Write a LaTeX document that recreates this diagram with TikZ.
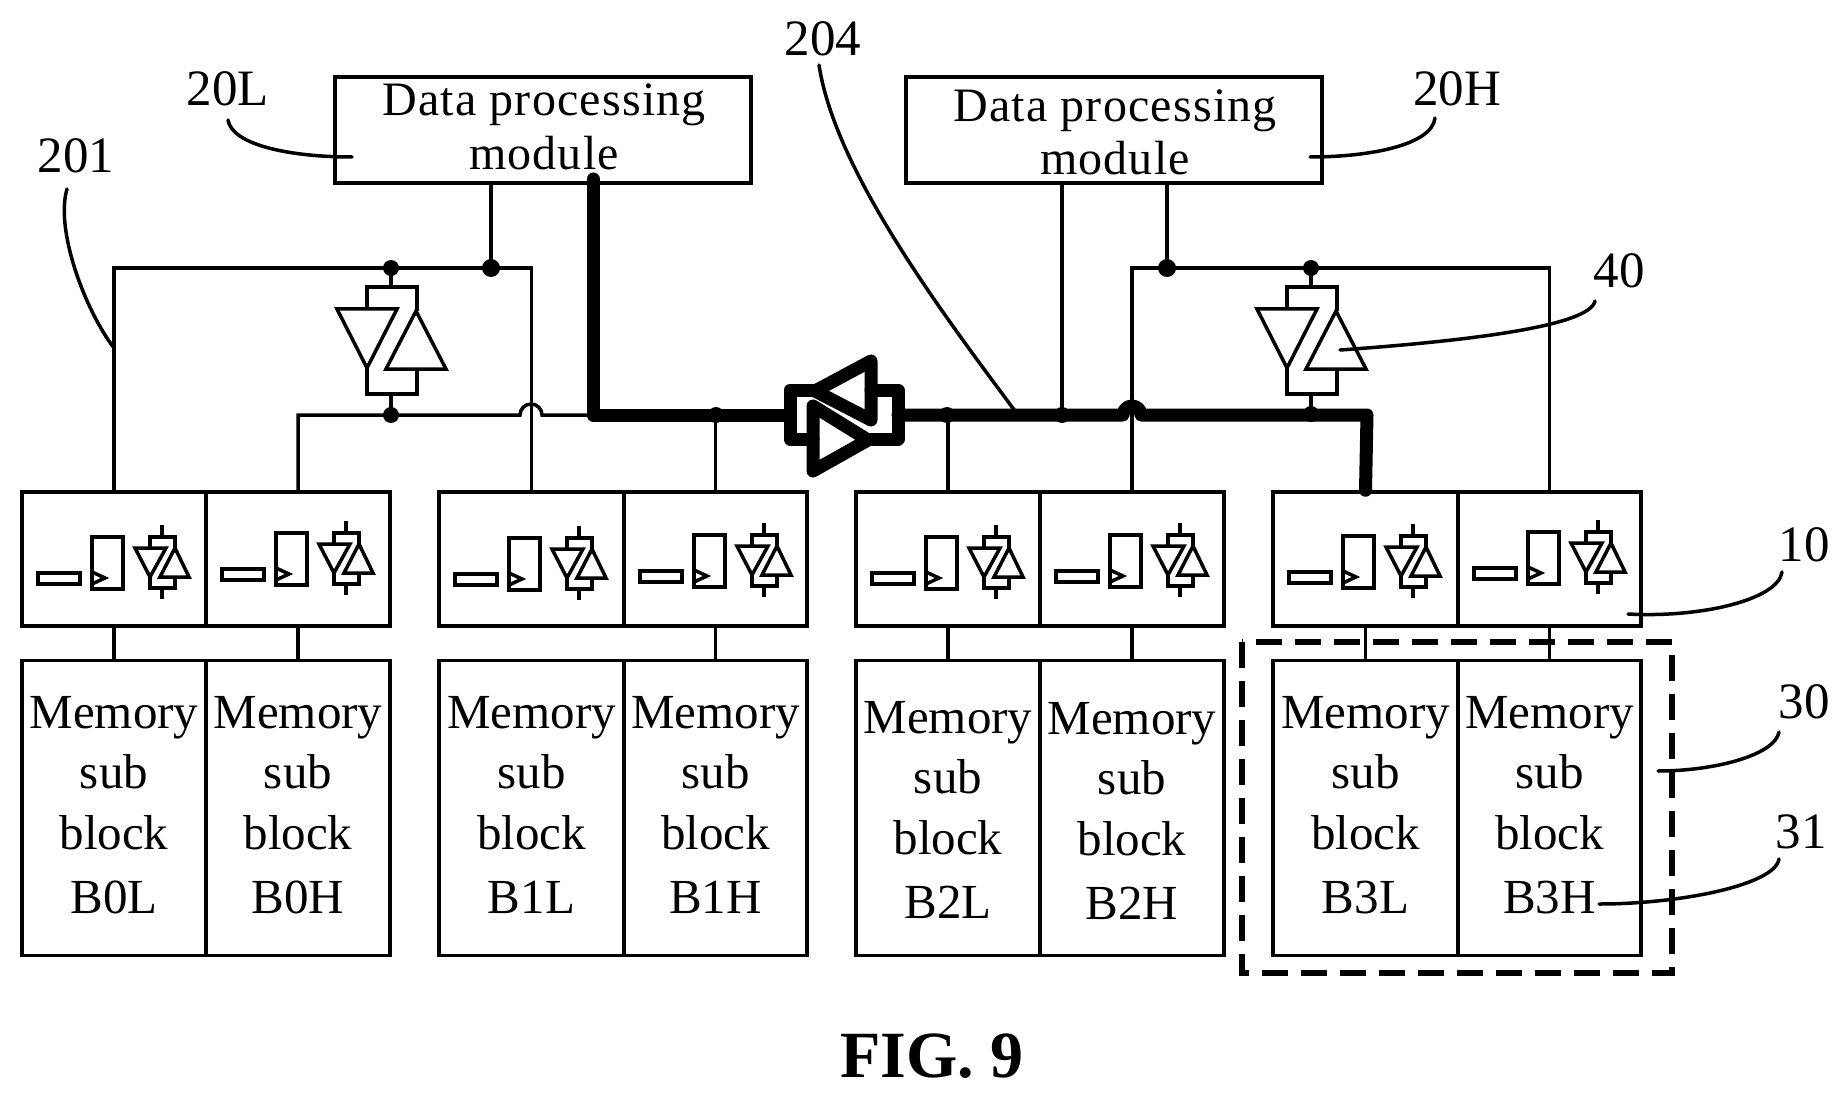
\documentclass[tikz,border=0pt]{standalone}
\usepackage{fontspec}
\setmainfont{Liberation Serif}
\newfontfamily\datafont[LetterSpace=2.5]{Liberation Serif}
\tikzset{
  thin line/.style={line width=3.5pt,line join=miter},
  thick bus/.style={line width=13pt,line join=round,line cap=round},
  cellbox/.style={draw,line width=3.5pt,inner sep=0pt,minimum height=134pt},
  membox/.style={draw,line width=3.5pt,inner sep=0pt,minimum height=295pt},
  modbox/.style={draw,line width=3.5pt,inner sep=0pt,minimum width=416pt,minimum height=106pt},
  memtext/.style={inner sep=0pt,anchor=base,align=center,font=\fontsize{49}{60}\selectfont},
  datatext/.style={inner sep=0pt,anchor=base,font=\datafont\fontsize{48}{58}\selectfont},
  reflabel/.style={inner sep=0pt,font=\fontsize{51}{60}\selectfont},
  leader/.style={line width=3.5pt,line cap=round},
  dot/.style={circle,fill=black,inner sep=0pt,minimum size=18pt},
}
% buffer pair drawn in a block cell
\newcommand{\cellicon}[2]{%
  \begin{scope}[shift={(#1,#2)},thin line]
    \draw (16,573) rectangle (58,584);
    \draw (70,537) rectangle (101,589);
    \draw (70,572) -- (83,578) -- (70,584);
    \draw (140,525) -- (140,537);
    \draw (128,548) -- (128,537) -- (153,537) -- (153,548);
    \draw (113,548) -- (144,548) -- (128,577) -- cycle;
    \draw (153,548) -- (167,577) -- (138,577) -- cycle;
    \draw (128,577) -- (128,588) -- (153,588) -- (153,577);
    \draw (140,588) -- (140,599);
  \end{scope}}
% a pair of cells above a pair of memory blocks
\newcommand{\blockpair}[8]{% name, x0, x1, x2, text shift L, text shift H, icon dy L, icon dy H
  \pgfmathsetmacro{\cA}{(#2+#3)/2}\pgfmathsetmacro{\wA}{#3-#2}
  \pgfmathsetmacro{\cB}{(#3+#4)/2}\pgfmathsetmacro{\wB}{#4-#3}
  \node[cellbox,minimum width=\wA pt] (i#1L) at (\cA,559) {};
  \node[cellbox,minimum width=\wB pt] (i#1H) at (\cB,559) {};
  \node[membox,minimum width=\wA pt] (m#1L) at (\cA,808) {};
  \node[membox,minimum width=\wB pt] (m#1H) at (\cB,808) {};
  \node[memtext] (t#1L) at (\cA,{913+#5}) {Memory\\sub\\[1pt]block\\[4pt]B#1L};
  \node[memtext] (t#1H) at (\cB,{913+#6}) {Memory\\sub\\[1pt]block\\[4pt]B#1H};
  \draw[thin line] (i#1H.south) -- (m#1H.north);
  \cellicon{#2}{#7}
  \cellicon{#3}{#8}
}
\newcommand{\bufferpair}[1]{%
  \begin{scope}[shift={(#1,0)},thin line]
    \draw (367,309) -- (367,287) -- (417,287) -- (417,311);
    \draw (337,309) -- (397,309) -- (367,368) -- cycle;
    \draw (416,311) -- (446,369) -- (386,369) -- cycle;
    \draw (367,368) -- (367,394) -- (417,394) -- (417,369);
    \draw (391,268) -- (391,287);
    \draw (391,394) -- (391,415);
  \end{scope}}
\begin{document}
\begin{tikzpicture}[x=1pt,y=-1pt]
\useasboundingbox (0,0) rectangle (1847,1099);

% blocks
\blockpair{0}{22}{206}{390}{0}{0}{0}{-4}
\blockpair{1}{439}{624}{807}{0}{0}{1}{-2}
\blockpair{2}{856}{1040}{1224}{5}{6}{0}{-2}
\blockpair{3}{1273}{1458}{1641}{0}{0}{-1}{-5}
% stems: block B1L has none of its own
\draw[thin line] (i0L.south) -- (m0L.north);
\draw[thin line] (i2L.south) -- (m2L.north);
\draw[thin line] (i3L.south) -- (m3L.north);

% data processing modules
\node[modbox] (dl) at (543,130) {};
\node[modbox] (dh) at (1114,130) {};
\node[datatext] (dlt1) at (544,116) {Data processing};
\node[datatext] (dlt2) at (544,170) {module};
\node[datatext] (dht1) at (1115,122) {Data processing};
\node[datatext] (dht2) at (1115,175) {module};

% junctions
\coordinate (lt) at (491,268);
\coordinate (lb) at (391,415);
\coordinate (lbt) at (391,268);
\coordinate (corner) at (593,415);
\coordinate (gateL) at (790,415);
\coordinate (gateR) at (898,415);
\coordinate (hopL) at (1123,415);

% left thin buses
\draw[thin line] (i0L.north) |- (lbt) -- (lt) -| (i1L.north);
\draw[thin line] (dl.south -| lt) -- (lt);
\draw[thin line] (i0H.north) |- (lb) -- (520,415) arc[start angle=180,end angle=360,radius=11] -- (corner);
\bufferpair{0}
\node[dot] (d1) at (lt) {};
\node[dot,minimum size=16pt] (d2) at (lbt) {};
\node[dot,minimum size=16pt] (d3) at (lb) {};

% right thin buses
\coordinate (rt) at (1167,268);
\coordinate (rbt) at (1311,268);
\coordinate (rb) at (1311,414);
\draw[thin line] (i2H.north) |- (rt) -- (rbt) -| (i3H.north);
\draw[thin line] (dh.south -| rt) -- (rt);
\bufferpair{920}
\node[dot] (d4) at (rt) {};
\node[dot,minimum size=16pt] (d5) at (rbt) {};
\node[dot,minimum size=16pt] (d6) at (rb) {};

% thin stems to the main bus
\draw[thin line] (i1H.north) -- (i1H.north |- corner);
\draw[thin line] (i2L.north) -- (i2L.north |- corner);
\draw[thin line] (dh.south -| 1062,0) -- (1062,415);

% thick bus
\draw[thick bus] (corner |- 0,179) -- (corner) -- (gateL);
\draw[thick bus] (gateR) -- (hopL) arc[start angle=180,end angle=360,radius=9] -- (1367,415) -- (i3L.north);
\node[dot,minimum size=16pt] (d7) at (716,415) {};
\node[dot,minimum size=16pt] (d8) at (947,415) {};
\node[dot,minimum size=16pt] (d9) at (1062,415) {};

% thick gate
\draw[thick bus] (815,391) -- (871,361) -- (871,420) -- cycle;
\draw[thick bus] (813,406) -- (868,440) -- (813,471) -- cycle;
\draw[thick bus] (815,390) -- (790,390) -- (790,439) -- (813,439);
\draw[thick bus] (871,390) -- (898,390) -- (898,439) -- (868,439);

% dashed outline
\draw[line width=6.5pt,dash pattern=on 26pt off 13pt] (1242,642) rectangle (1672,973);

% reference labels and leaders
\node[reflabel] (l20L) at (228,89) {20L};
\node[reflabel] (l20H) at (1457,89) {20H};
\node[reflabel] (l201) at (76,156) {201};
\node[reflabel] (l204) at (823,39) {204};
\node[reflabel] (l40) at (1619,271) {40};
\node[reflabel] (l10) at (1804,545) {10};
\node[reflabel] (l30) at (1804,702) {30};
\node[reflabel] (l31) at (1801,832) {31};
\coordinate (e20L) at (352,157);
\coordinate (e20H) at (1310,157);
\coordinate (e201) at (114,348);
\coordinate (e204) at (1015,411);
\coordinate (e40) at (1340,350);
\coordinate (e10) at (1628,614);
\coordinate (e30) at (1658,771);
\coordinate (e31) at (1599,904);
\draw[leader] (228,120) .. controls (232,145) and (290,157) .. (e20L);
\draw[leader] (1435,118) .. controls (1432,145) and (1370,157) .. (e20H);
\draw[leader] (67,189) .. controls (55,230) and (85,310) .. (e201);
\draw[leader] (819,65) .. controls (835,170) and (940,310) .. (e204);
\draw[leader] (1595,301) .. controls (1590,325) and (1480,340) .. (e40);
\draw[leader] (1782,572) .. controls (1778,600) and (1700,618) .. (e10);
\draw[leader] (1779,732) .. controls (1775,755) and (1715,771) .. (e30);
\draw[leader] (1779,859) .. controls (1775,885) and (1680,904) .. (e31);

% caption
\node[inner sep=0pt,anchor=base,font=\bfseries\fontsize{66}{70}\selectfont] (fig) at (932,1077) {FIG. 9};
\end{tikzpicture}
\end{document}
